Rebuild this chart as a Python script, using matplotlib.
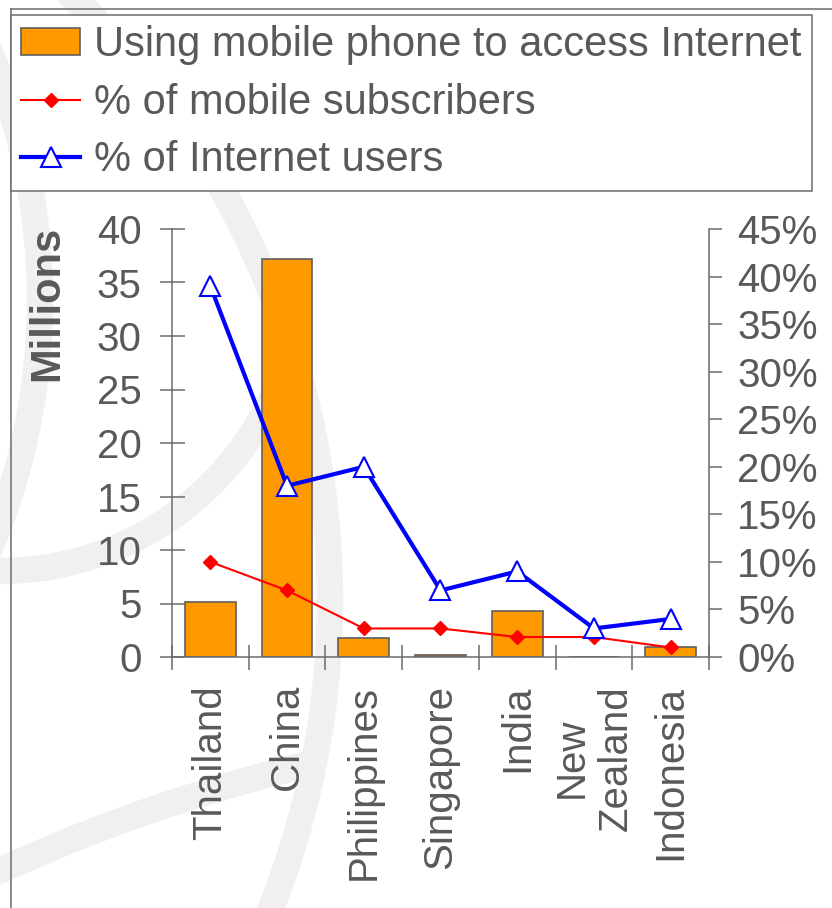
import numpy as np
import matplotlib
matplotlib.use("Agg")
import matplotlib.pyplot as plt
from matplotlib.patches import Circle, Arc, Patch
from matplotlib.lines import Line2D

plt.rcParams["font.family"] = ["Liberation Sans", "DejaVu Sans"]

# données
countries = ["Thailand", "China", "Philippines", "Singapore", "India", "New\nZealand", "Indonesia"]
mobile_internet_m = [5.1, 37.2, 1.8, 0.2, 4.3, 0.0, 0.9]      # millions
pct_mobile_subs = [10, 7, 3, 3, 2.1, 2.1, 1]                 # %
pct_internet_users = [39, 18, 20, 7, 9, 3, 4]                # %
left_ticks = list(range(0, 41, 5))
right_ticks = list(range(0, 46, 5))

GREY = "#595959"
AXIS = "#6b6b6b"
ORANGE = "#ff9900"

W, H = 832, 908
fig = plt.figure(figsize=(W / 100, H / 100), dpi=100)


def px(x, y):
    # pixels depuis le coin haut-gauche -> pouces depuis le bas-gauche
    return x / 100, (H - y) / 100


# anneaux gris pâle du fond
ring = dict(color="#f1f0ef", lw=19, transform=fig.dpi_scale_trans, zorder=-5)
fig.add_artist(Circle(px(-505, 600), 8.35, fill=False, **ring))
fig.add_artist(Arc(px(-600, 300), 12.8, 12.8, theta1=-25, theta2=25, **ring))
fig.add_artist(Arc(px(0, 271), 6.0, 6.0, theta1=-100, theta2=-10, **ring))
fig.add_artist(Arc(px(700, 2400), 33.64, 33.64, theta1=103, theta2=116, **ring))

# cadre extérieur
fig.add_artist(Line2D([11 / W, 1], [1 - 9 / H, 1 - 9 / H], transform=fig.transFigure, color=AXIS, lw=1.1))
fig.add_artist(Line2D([11 / W, 11 / W], [0, 1 - 9 / H], transform=fig.transFigure, color=AXIS, lw=1.1))

ax = fig.add_axes([172 / W, 1 - 657 / H, 537 / W, 428 / H])
ax.patch.set_visible(False)
x = np.arange(len(countries))

ax.bar(x, mobile_internet_m, width=0.66, color=ORANGE, edgecolor="#606060", linewidth=1.2, zorder=2)
ax.set_xlim(-0.5, len(countries) - 0.5)
ax.set_ylim(0, 40)
ax.set_yticks(left_ticks)
ax.set_yticklabels([str(v) for v in left_ticks])
ax.set_xticks(np.arange(-0.5, len(countries), 1))
ax.set_xticklabels([])
ax.set_xticks(x, minor=True)
ax.set_xticklabels(countries, minor=True, rotation=90, multialignment="center")

ax.tick_params(axis="y", direction="inout", length=18, width=1.1, color=AXIS,
               labelsize=29, labelcolor=GREY, pad=13)
ax.tick_params(axis="x", which="major", direction="inout", length=18, width=1.1, color=AXIS)
ax.tick_params(axis="x", which="minor", length=0, labelsize=29, labelcolor=GREY, pad=20)

for s in ["top", "right"]:
    ax.spines[s].set_visible(False)
for s in ["left", "bottom"]:
    ax.spines[s].set_color(AXIS)
    ax.spines[s].set_linewidth(1.1)

fig.text(47 / W, 1 - 303 / H, "Millions", rotation=90, fontsize=30, fontweight="bold",
         color=GREY, ha="center", va="center")

# axe secondaire en %
ax2 = ax.twinx()
ax2.set_ylim(0, 45)
ax2.set_yticks(right_ticks)
ax2.set_yticklabels([f"{v}%" for v in right_ticks])
ax2.tick_params(axis="y", direction="out", length=9.4, width=1.1, color=AXIS,
                labelsize=29, labelcolor=GREY, pad=11)
for s in ["top", "left", "bottom"]:
    ax2.spines[s].set_visible(False)
ax2.spines["right"].set_color(AXIS)
ax2.spines["right"].set_linewidth(1.1)

ax2.plot(x, pct_mobile_subs, color="#ff0000", lw=1.5, marker="D", ms=7,
         mfc="#ff0000", mec="#ff0000", zorder=3)
ax2.plot(x, pct_internet_users, color="#0000ff", lw=3, marker="^", ms=14,
         mfc="white", mec="#0000ff", mew=1.5, zorder=4)

handles = [
    Patch(facecolor=ORANGE, edgecolor="#606060", linewidth=1.2),
    Line2D([], [], color="#ff0000", lw=1.5, marker="D", ms=7, mfc="#ff0000", mec="#ff0000"),
    Line2D([], [], color="#0000ff", lw=3, marker="^", ms=14, mfc="white", mec="#0000ff", mew=1.5),
]
labels = ["Using mobile phone to access Internet", "% of mobile subscribers", "% of Internet users"]
leg = fig.legend(handles, labels, loc="upper left", bbox_to_anchor=(11 / W, 1 - 15 / H),
                 fontsize=30, labelcolor=GREY, frameon=True, fancybox=False,
                 edgecolor=AXIS, framealpha=1, borderpad=0.25, borderaxespad=0,
                 handlelength=1.4, handleheight=0.6, handletextpad=0.35, labelspacing=0.42)
leg.get_frame().set_linewidth(1.1)

fig.savefig("out.png", dpi=100)
